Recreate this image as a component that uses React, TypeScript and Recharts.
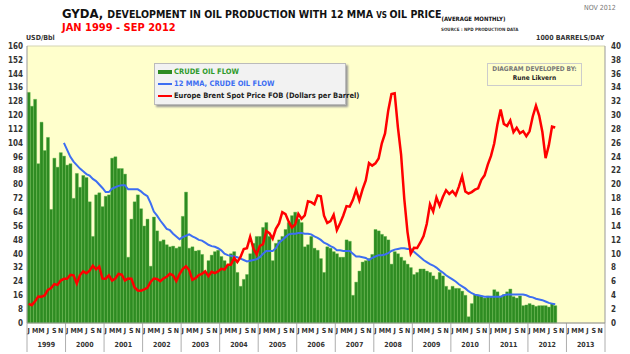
import React from "react";
import { ComposedChart, Bar, Line, XAxis, YAxis, CartesianGrid } from "recharts";

const years = [1999, 2000, 2001, 2002, 2003, 2004, 2005, 2006, 2007, 2008, 2009, 2010, 2011, 2012, 2013];
const monthLetters = ["J", "F", "M", "A", "M", "J", "J", "A", "S", "O", "N", "D"];
const leftTicks = [0, 8, 16, 24, 32, 40, 48, 56, 64, 72, 80, 88, 96, 104, 112, 120, 128, 136, 144, 152, 160];
const rightTicks = [0, 2, 4, 6, 8, 10, 12, 14, 16, 18, 20, 22, 24, 26, 28, 30, 32, 34, 36, 38, 40];

// crude oil flow, 1000 barrels/day, Jan 1999 - Sep 2012
const crudeOilFlow = [
  33.3, 31.3, 32.3, 23.0, 29.0, 24.9, 26.8, 16.4, 23.8, 22.5, 24.6, 24.1,
  22.8, 23.0, 18.0, 21.6, 19.6, 21.3, 21.0, 17.5, 12.5, 18.5, 18.8, 16.8,
  18.3, 18.5, 23.8, 24.0, 22.3, 22.3, 21.5, 9.5, 15.0, 17.5, 18.5, 16.5,
  14.0, 15.0, 8.2, 15.3, 13.3, 11.8, 12.0, 11.3, 11.0, 11.1, 10.8, 11.0,
  15.4, 18.9, 10.8, 11.0, 10.4, 10.5, 9.9, 7.3, 9.0, 9.8, 10.3, 10.5,
  9.6, 9.0, 8.3, 10.0, 10.3, 7.3, 5.3, 6.3, 7.0, 10.0, 11.5, 12.5,
  12.5, 13.8, 14.5, 12.5, 9.0, 11.5, 12.0, 12.5, 13.5, 14.5, 15.5, 16.0,
  15.0, 14.5, 11.0, 11.3, 12.5, 10.8, 10.5, 9.3, 7.3, 11.0, 10.8, 10.3,
  10.0, 9.5, 9.5, 12.0, 11.8, 4.0, 5.9, 7.5, 8.8, 9.0, 9.3, 9.9,
  13.5, 13.3, 12.8, 12.5, 12.0, 8.5, 10.3, 10.0, 9.5, 9.0, 8.5, 8.0,
  7.0, 7.3, 7.8, 7.8, 7.5, 7.3, 6.8, 6.3, 7.3, 6.8, 5.3, 4.8,
  5.3, 5.0, 5.0, 4.6, 4.0, 0.9, 2.8, 4.1, 4.0, 3.9, 3.6, 3.9,
  3.8, 4.8, 4.5, 3.8, 4.1, 4.5, 4.9, 3.8, 3.6, 3.9, 2.5, 2.6,
  2.8, 2.6, 2.4, 2.5, 2.5, 2.5, 2.3, 2.8, 2.5,
];

// 12 MMA of crude oil flow, Dec 1999 - Sep 2012
const mma12 = [
  26.0,
  25.0, 24.0, 23.3, 22.8, 22.3, 21.9, 21.5, 21.3, 20.8, 20.5, 20.0, 19.5,
  18.9, 18.9, 19.4, 19.6, 19.8, 19.9, 19.9, 19.3, 19.3, 19.3, 19.3, 19.0,
  18.6, 18.3, 17.3, 16.1, 15.5, 14.8, 14.2, 13.6, 13.4, 12.9, 12.5, 12.1,
  12.4, 12.6, 12.8, 12.5, 12.3, 12.0, 11.9, 11.6, 11.3, 11.1, 11.0, 10.8,
  10.5, 10.0, 9.8, 9.7, 9.6, 9.5, 9.3, 9.1, 8.9, 9.0, 9.1, 9.2,
  9.5, 10.0, 10.4, 10.4, 10.4, 10.8, 11.6, 12.0, 12.4, 12.8, 12.9, 12.9,
  13.0, 13.0, 12.9, 12.9, 12.8, 12.5, 12.3, 12.0, 11.6, 11.4, 11.1, 10.9,
  10.5, 10.5, 10.4, 10.4, 10.4, 10.0, 9.6, 9.6, 9.5, 9.4, 9.1, 9.4,
  9.6, 9.8, 9.8, 9.9, 10.1, 10.4, 10.6, 10.7, 10.8, 10.8, 10.7, 10.7,
  10.3, 9.9, 9.5, 9.1, 8.8, 8.5, 8.3, 8.0, 7.6, 7.3, 6.9, 6.6,
  6.3, 6.0, 5.6, 5.3, 5.0, 4.6, 4.3, 4.1, 4.0, 3.9, 3.8, 3.8,
  3.8, 3.8, 3.8, 3.8, 4.0, 4.1, 4.1, 4.1, 4.1, 4.1, 4.1, 4.0,
  3.8, 3.7, 3.5, 3.4, 3.3, 3.1, 2.9, 2.8, 2.7,
];

// Europe Brent spot price FOB, USD/bbl
const brentPrice = [
  11.1, 10.3, 12.5, 15.3, 15.2, 15.9, 19.1, 20.2, 22.5, 22.0, 24.5, 25.5,
  25.5, 27.8, 27.5, 22.8, 27.7, 29.8, 28.7, 30.2, 33.1, 31.0, 32.6, 25.7,
  25.6, 27.5, 24.5, 25.7, 28.3, 27.9, 24.6, 25.7, 25.6, 20.5, 18.8, 18.7,
  19.4, 20.3, 23.7, 25.7, 25.4, 24.1, 25.7, 26.7, 28.4, 27.5, 24.3, 28.3,
  31.2, 32.8, 30.6, 25.0, 25.9, 27.7, 28.4, 29.9, 27.1, 29.6, 28.8, 29.8,
  31.3, 30.9, 33.6, 33.6, 37.6, 35.2, 38.2, 42.7, 43.2, 49.8, 43.1, 39.6,
  44.5, 45.5, 53.1, 51.9, 48.7, 54.4, 57.5, 64.0, 62.9, 58.5, 55.2, 56.9,
  63.0, 60.2, 62.1, 70.3, 69.8, 68.6, 73.7, 73.2, 62.0, 57.8, 58.8, 62.5,
  53.7, 57.6, 62.1, 67.5, 67.2, 71.1, 76.9, 70.8, 77.2, 82.3, 92.4, 90.9,
  92.2, 95.0, 103.8, 109.5, 122.8, 132.3, 132.7, 113.2, 97.2, 71.6, 52.5, 40.0,
  43.4, 43.3, 46.5, 50.2, 57.3, 68.6, 64.4, 72.5, 67.7, 72.8, 76.7, 74.5,
  76.2, 73.8, 78.8, 84.8, 76.0, 74.8, 75.6, 77.0, 77.8, 82.7, 85.3, 91.5,
  96.5, 103.7, 114.6, 123.3, 115.0, 113.8, 117.0, 110.2, 112.8, 109.6, 110.8, 107.9,
  110.7, 119.3, 125.5, 119.8, 110.3, 95.2, 102.6, 113.4, 112.9,
];

const data = years.flatMap((yr, yi) =>
  monthLetters.map((_, mi) => {
    const i = yi * 12 + mi;
    return {
      idx: i,
      flow: crudeOilFlow[i] ?? null,
      mma: i >= 11 ? mma12[i - 11] ?? null : null,
      brent: brentPrice[i] ?? null,
    };
  })
);

const FONT = "'Liberation Sans Narrow', 'DejaVu Sans Condensed', 'Liberation Sans', sans-serif";
const halfBand = 578 / 180 / 2;

const MonthTick = (props: any) => {
  const { x, y, payload } = props;
  const i = payload.value as number;
  const m = i % 12;
  return (
    <g>
      {m % 2 === 0 && (
        <text x={x} y={y + 10} textAnchor="middle" fontSize={7} fontWeight="bold" fill="#333" fontFamily={FONT}>
          {monthLetters[m]}
        </text>
      )}
      {m === 0 && <line x1={x - halfBand} x2={x - halfBand} y1={y} y2={y + 29} stroke="#999" strokeWidth={0.8} />}
      {i === 179 && <line x1={x + halfBand} x2={x + halfBand} y1={y} y2={y + 29} stroke="#999" strokeWidth={0.8} />}
      {m === 6 && (
        <text x={x - halfBand} y={y + 24} textAnchor="middle" fontSize={7} fontWeight="bold" fill="#333" fontFamily={FONT}>
          {years[Math.floor(i / 12)]}
        </text>
      )}
    </g>
  );
};

const tickStyle = { fontSize: 8, fontWeight: "bold", fill: "#333", fontFamily: FONT };

export default function App() {
  return (
    <div style={{ position: "absolute", left: 0, top: 0, width: 630, height: 354, background: "#fff", overflow: "hidden", fontFamily: FONT }}>
      <ComposedChart width={630} height={354} data={data} margin={{ top: 46, right: 0, bottom: 0, left: 0 }} barCategoryGap="6%">
        <CartesianGrid vertical={false} stroke="#d4d4b4" fill="#ffffcc" fillOpacity={1} />
        <XAxis dataKey="idx" interval={0} height={31} tickLine={false} tickSize={0} tickMargin={0} stroke="#999" tick={<MonthTick />} />
        <YAxis yAxisId="left" domain={[0, 160]} ticks={leftTicks} interval={0} width={27} tickLine={false} tickSize={0} tickMargin={4} stroke="#999" tick={tickStyle} />
        <YAxis yAxisId="right" orientation="right" domain={[0, 40]} ticks={rightTicks} interval={0} width={25} tickLine={false} tickSize={0} tickMargin={6} stroke="#999" tick={{ ...tickStyle, textAnchor: "start" }} />
        <Bar yAxisId="right" dataKey="flow" fill="#2e8b22" stroke="#55b043" strokeWidth={0.4} isAnimationActive={false} />
        <Line yAxisId="right" dataKey="mma" stroke="#3d6ef2" strokeWidth={2} dot={false} isAnimationActive={false} connectNulls={false} />
        <Line yAxisId="left" dataKey="brent" stroke="#ff0000" strokeWidth={2.5} dot={false} isAnimationActive={false} connectNulls={false} />
      </ComposedChart>

      <div style={{ position: "absolute", left: 62, top: 3, whiteSpace: "nowrap", fontWeight: "bold", color: "#111" }}>
        <span style={{ fontSize: 13 }}>GYDA, </span>
        <span style={{ fontSize: 10.5 }}>DEVELOPMENT IN OIL PRODUCTION WITH 12 MMA </span>
        <span style={{ fontSize: 8 }}>VS </span>
        <span style={{ fontSize: 10.5 }}>OIL PRICE</span>
        <span style={{ fontSize: 6, position: "relative", top: 3 }}>(AVERAGE MONTHLY)</span>
      </div>
      <div style={{ position: "absolute", left: 62, top: 21, fontSize: 11, fontWeight: "bold", color: "#ff0000", whiteSpace: "nowrap" }}>
        JAN 1999 - SEP 2012
      </div>
      <div style={{ position: "absolute", left: 441, top: 27, fontSize: 4.5, fontWeight: "bold", color: "#333", whiteSpace: "nowrap" }}>
        SOURCE : NPD PRODUCTION DATA
      </div>
      <div style={{ position: "absolute", left: 584, top: 4, fontSize: 7, color: "#777", whiteSpace: "nowrap" }}>NOV 2012</div>
      <div style={{ position: "absolute", left: 26, top: 34, fontSize: 7, fontWeight: "bold", color: "#333", whiteSpace: "nowrap" }}>USD/Bbl</div>
      <div style={{ position: "absolute", left: 536, top: 34, fontSize: 7, fontWeight: "bold", color: "#333", whiteSpace: "nowrap" }}>1000 BARRELS/DAY</div>

      <div style={{ position: "absolute", left: 154, top: 63, width: 190, height: 40, background: "#f2f2f2", border: "1px solid #bbb", boxShadow: "2px 2px 2px #999", fontSize: 7.5, fontWeight: "bold", whiteSpace: "nowrap" }}>
        <div style={{ position: "absolute", left: 3, top: 3, color: "#2e9a2a" }}>
          <span style={{ display: "inline-block", width: 14, height: 4, background: "#2e8b22", marginRight: 2, verticalAlign: "middle" }} />
          CRUDE OIL FLOW
        </div>
        <div style={{ position: "absolute", left: 3, top: 15, color: "#3d6ef2" }}>
          <span style={{ display: "inline-block", width: 14, height: 2, background: "#3d6ef2", marginRight: 2, verticalAlign: "middle" }} />
          12 MMA, CRUDE OIL FLOW
        </div>
        <div style={{ position: "absolute", left: 3, top: 27, color: "#222" }}>
          <span style={{ display: "inline-block", width: 14, height: 2, background: "#ff0000", marginRight: 2, verticalAlign: "middle" }} />
          Europe Brent Spot Price FOB (Dollars per Barrel)
        </div>
      </div>

      <div style={{ position: "absolute", left: 487, top: 63, width: 93, height: 20, border: "1px solid #ccc", fontSize: 6.5, textAlign: "center", lineHeight: "9px", paddingTop: 1 }}>
        <div style={{ color: "#777", fontWeight: "bold" }}>DIAGRAM DEVELOPED BY:</div>
        <div style={{ color: "#222", fontWeight: "bold" }}>Rune Likvern</div>
      </div>
    </div>
  );
}
